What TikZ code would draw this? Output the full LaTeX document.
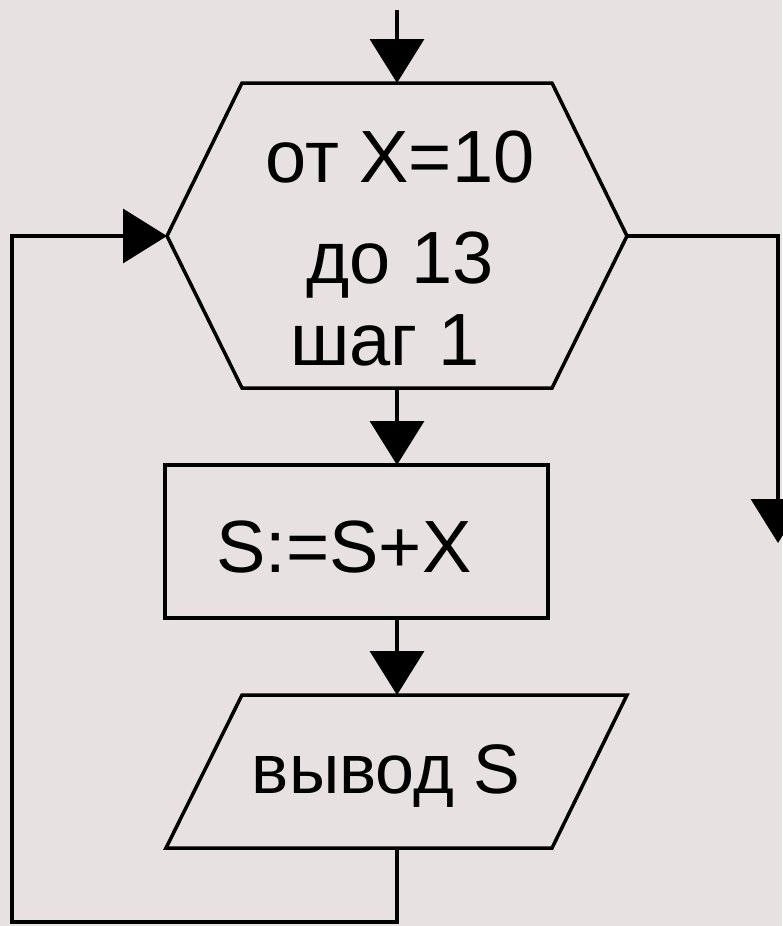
\documentclass[tikz,border=0pt]{standalone}
\usepackage{fontspec}
\setmainfont{Liberation Sans}
\usetikzlibrary{arrows.meta}
\definecolor{bg}{RGB}{232,225,226}
\begin{document}
\begin{tikzpicture}[x=1pt,y=-1pt,
  flow/.style={line width=3.5pt,black,line join=miter},
  arr/.style={flow,-{Triangle[length=44pt,width=54pt]}},
  lbl/.style={anchor=base,inner sep=0pt,font=\fontsize{74}{80}\selectfont}]
\fill[bg] (0,0) rectangle (782,926);
\useasboundingbox (0,0) rectangle (782,926);
% hexagon (loop header)
\coordinate (hexT) at (397,83);
\coordinate (hexB) at (397,388);
\coordinate (hexL) at (167,236);
\coordinate (hexR) at (627,236);
\draw[flow] (242,83) -- (552,83) -- (hexR) -- (552,388) -- (242,388) -- (hexL) -- cycle;
\node[lbl] (t1) at (400,182) {от X=10};
\node[lbl] (t2) at (400,283) {до 13};
\node[lbl] (t3) at (385,365) {шаг 1};
% process box
\coordinate (rectT) at (397,465);
\coordinate (rectB) at (397,618);
\draw[flow] (165,465) rectangle (548,618);
\node[lbl] (assign) at (344,572) {S:=S+X};
% output parallelogram
\coordinate (parT) at (397,695);
\coordinate (parB) at (397,848);
\draw[flow] (242,695) -- (627,695) -- (552,848) -- (166,848) -- cycle;
\node[lbl,font=\fontsize{70}{76}\selectfont] (out) at (386,793) {вывод S};
% connectors
\coordinate (start) at (397,10);
\coordinate (exit) at (778,543);
\draw[arr] (start) -- (hexT);
\draw[arr] (hexB) -- (rectT);
\draw[arr] (rectB) -- (parT);
\draw[arr] (parB) -- (397,922) -- (12,922) -- (12,236) -- (hexL);
\draw[arr] (hexR) -- (778,236) -- (exit);
\end{tikzpicture}
\end{document}
